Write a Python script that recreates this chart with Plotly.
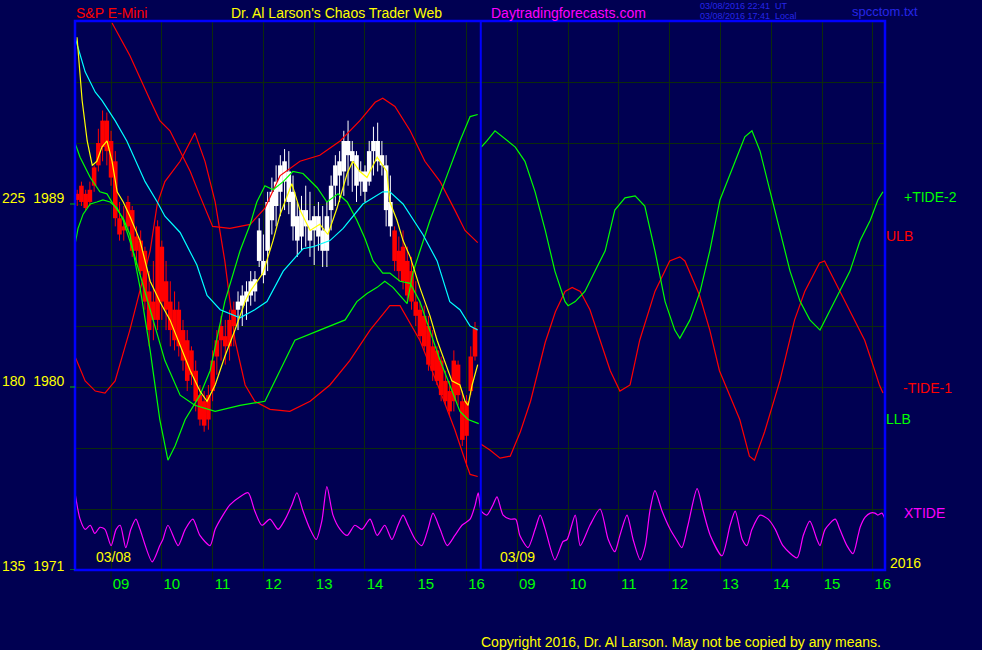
import plotly.graph_objects as go

# ---------------- data ----------------
# x axis: trading hours, day 1 hour h -> h, day 2 hour h -> h + 8
hour_ticks = [9, 10, 11, 12, 13, 14, 15, 16, 17, 18, 19, 20, 21, 22, 23, 24]
hour_labels = ["09", "10", "11", "12", "13", "14", "15", "16",
               "09", "10", "11", "12", "13", "14", "15", "16"]
price_grid = [1974, 1977, 1980, 1983, 1986, 1989, 1992, 1995]

# 5-minute price bars, day 1 (bar times 8:20 ... 16:10)
bar_t = [round(8 + 20 / 60 + k * 5 / 60, 4) for k in range(95)]
bar_h = [1989.7, 1990.1, 1989.7, 1990.1, 1990.9, 1992.7, 1993.6, 1993.5, 1992.6, 1991.6,
         1989.1, 1988.9, 1989.4, 1988.9, 1987.9, 1987.7, 1986.9, 1985.7, 1986.2, 1988.2,
         1987.2, 1986.2, 1985.2, 1984.7, 1984.2, 1983.3, 1982.8, 1982.0, 1981.3, 1980.1,
         1979.8, 1980.1, 1981.8, 1982.8, 1983.5, 1983.3, 1983.8, 1984.2, 1984.7, 1985.0,
         1985.2, 1985.7, 1985.7, 1988.3, 1987.5, 1989.6, 1990.3, 1990.9, 1991.4, 1991.7,
         1991.6, 1990.4, 1989.1, 1989.4, 1989.9, 1989.6, 1988.9, 1989.1, 1988.9, 1989.1,
         1990.4, 1991.4, 1991.6, 1992.6, 1993.1, 1992.1, 1991.6, 1991.1, 1990.9, 1992.1,
         1992.8, 1993.0, 1992.1, 1991.4, 1990.4, 1987.9, 1987.4, 1987.7, 1986.9, 1986.4,
         1985.2, 1984.2, 1984.0, 1983.5, 1982.8, 1982.0, 1981.5, 1980.8, 1980.3, 1981.8,
         1981.3, 1979.8, 1979.6, 1982.0, 1983.2]
bar_l = [1988.9, 1988.9, 1988.7, 1988.9, 1989.6, 1990.6, 1991.1, 1990.9, 1989.9, 1987.9,
         1987.2, 1987.2, 1987.7, 1986.4, 1986.0, 1985.5, 1983.8, 1982.0, 1982.3, 1982.8,
         1983.3, 1982.8, 1982.0, 1981.8, 1981.5, 1980.8, 1979.8, 1980.1, 1978.8, 1978.1,
         1977.8, 1977.9, 1979.3, 1980.6, 1981.3, 1981.1, 1981.3, 1982.0, 1982.8, 1983.0,
         1983.3, 1984.0, 1984.2, 1985.9, 1985.1, 1985.7, 1987.5, 1987.9, 1988.4, 1988.7,
         1988.5, 1987.2, 1986.4, 1986.7, 1986.9, 1986.4, 1986.0, 1986.7, 1985.9, 1985.9,
         1987.7, 1988.9, 1989.1, 1989.4, 1989.9, 1989.6, 1989.1, 1989.4, 1989.1, 1989.9,
         1990.4, 1990.6, 1990.4, 1987.9, 1987.4, 1985.7, 1985.2, 1984.8, 1984.2, 1983.8,
         1983.0, 1982.3, 1981.8, 1980.8, 1980.3, 1980.1, 1979.3, 1979.1, 1978.6, 1978.8,
         1979.1, 1977.1, 1976.1, 1979.6, 1981.3]
bar_o = [1989.2, 1989.9, 1989.5, 1989.1, 1989.9, 1990.9, 1991.8, 1993.1, 1992.1, 1991.1,
         1988.3, 1987.9, 1987.9, 1988.7, 1987.4, 1987.2, 1986.7, 1984.7, 1984.2, 1983.3,
         1986.9, 1985.2, 1984.2, 1983.8, 1983.8, 1982.8, 1982.3, 1981.8, 1980.8, 1979.6,
         1979.3, 1978.4, 1979.8, 1981.5, 1982.3, 1982.5, 1982.0, 1983.0, 1983.8, 1984.0,
         1984.2, 1984.5, 1984.7, 1986.2, 1985.5, 1986.7, 1988.2, 1988.9, 1989.6, 1990.1,
         1990.6, 1989.6, 1988.4, 1987.4, 1988.7, 1988.2, 1987.7, 1988.4, 1987.7, 1986.7,
         1988.7, 1989.9, 1990.4, 1990.6, 1992.1, 1991.1, 1991.4, 1990.1, 1990.6, 1990.1,
         1991.6, 1992.1, 1991.4, 1990.9, 1989.1, 1987.7, 1986.7, 1986.9, 1986.2, 1985.7,
         1984.2, 1983.8, 1983.5, 1983.0, 1982.0, 1981.8, 1981.3, 1980.3, 1979.8, 1979.3,
         1981.1, 1979.3, 1979.3, 1979.8, 1981.5]
bar_c = [1989.5, 1989.1, 1988.8, 1989.7, 1990.8, 1992.0, 1993.1, 1991.6, 1990.3, 1988.3,
         1987.5, 1987.7, 1989.1, 1986.7, 1986.7, 1985.7, 1984.2, 1982.8, 1983.3, 1987.9,
         1984.2, 1983.8, 1982.8, 1982.3, 1982.0, 1981.3, 1980.3, 1980.6, 1979.3, 1978.4,
         1978.1, 1979.6, 1981.3, 1982.3, 1983.0, 1982.0, 1983.3, 1983.8, 1984.2, 1984.5,
         1984.7, 1985.2, 1985.3, 1987.7, 1986.2, 1989.1, 1989.6, 1990.1, 1990.9, 1991.1,
         1989.1, 1987.9, 1987.2, 1988.7, 1987.9, 1987.2, 1988.4, 1987.4, 1986.7, 1988.4,
         1989.9, 1990.9, 1991.1, 1992.1, 1991.4, 1991.6, 1989.9, 1990.6, 1989.6, 1991.6,
         1992.1, 1991.1, 1990.9, 1988.7, 1987.9, 1986.2, 1985.7, 1985.2, 1984.5, 1984.2,
         1983.5, 1982.5, 1982.0, 1981.1, 1980.8, 1980.3, 1979.6, 1979.3, 1978.8, 1981.3,
         1979.6, 1977.4, 1977.6, 1981.5, 1982.9]
bar_col = ["r"] * 38 + ["w"] * 37 + ["r"] * 20

# yellow fast average
yel_t = [8.33, 8.43, 8.53, 8.63, 8.72, 8.82, 8.92, 9.02, 9.12, 9.24, 9.37, 9.57, 9.77, 9.96, 10.16, 10.36,
         10.56, 10.75, 10.89, 11.05, 11.24, 11.44, 11.64, 11.74, 11.99, 12.19, 12.33, 12.56, 12.72, 12.92,
         13.11, 13.27, 13.45, 13.65, 13.76, 13.9, 14.04, 14.24, 14.43, 14.49, 14.63, 14.75, 14.89, 15.08,
         15.28, 15.42, 15.57, 15.71, 15.87, 15.97, 16.03, 16.11, 16.22]
yel_v = [1997.2, 1994.1, 1992.1, 1990.9, 1991.1, 1991.8, 1992.1, 1991.1, 1989.6, 1989.1, 1988.4, 1987.2,
         1985.2, 1984.2, 1983.3, 1982.0, 1980.8, 1979.8, 1979.3, 1980.1, 1981.5, 1982.8, 1984.2, 1984.7,
         1985.6, 1987.2, 1988.5, 1990.0, 1988.7, 1987.7, 1988.0, 1987.5, 1988.8, 1990.5, 1991.1, 1990.6,
         1990.3, 1991.3, 1990.6, 1989.1, 1988.2, 1987.2, 1986.4, 1984.9, 1983.5, 1982.3, 1981.3, 1980.3,
         1980.1, 1979.3, 1979.1, 1980.1, 1981.1]

# cyan slow average
cyan_t = [8.29, 8.49, 8.69, 8.82, 9.08, 9.31, 9.67, 9.91, 10.06, 10.36, 10.69, 10.89, 11.15, 11.54, 11.83,
          12.07, 12.39, 12.78, 12.98, 13.31, 13.57, 13.96, 14.35, 14.49, 14.75, 15.14, 15.42, 15.67, 15.87,
          16.07, 16.22]
cyan_v = [1997.2, 1995.5, 1994.5, 1994.1, 1993.1, 1992.1, 1990.1, 1989.1, 1988.4, 1987.6, 1986.0, 1984.5,
          1983.8, 1983.4, 1983.8, 1984.2, 1985.7, 1986.8, 1986.9, 1987.2, 1987.8, 1989.0, 1989.6, 1989.6,
          1989.0, 1987.5, 1986.2, 1984.2, 1983.8, 1983.0, 1982.8]

# ULB (red, day 1)
ulb_t = [9.02, 9.37, 9.77, 9.96, 10.16, 10.36, 10.56, 10.75, 11.0, 11.34, 11.54, 11.74, 12.03, 12.33, 12.72,
         13.11, 13.51, 13.9, 14.2, 14.35, 14.59, 14.89, 15.18, 15.48, 15.77, 15.97, 16.22]
ulb_v = [1997.9, 1996.3, 1994.1, 1993.1, 1992.6, 1991.6, 1990.6, 1989.4, 1987.9, 1987.8, 1987.9, 1988.0,
         1988.8, 1990.4, 1991.1, 1991.4, 1992.1, 1993.1, 1994.0, 1994.2, 1993.8, 1992.6, 1991.1, 1990.1,
         1988.7, 1987.7, 1987.1]

# LLB (green, day 1)
llb_t = [8.29, 8.39, 8.59, 8.78, 8.92, 9.04, 9.24, 9.37, 9.57, 9.77, 9.96, 10.12, 10.26, 10.46, 10.75, 10.95,
         11.24, 11.54, 11.74, 11.87, 12.03, 12.19, 12.39, 12.58, 12.78, 13.06, 13.25, 13.47, 13.65, 13.84,
         14.0, 14.16, 14.35, 14.49, 14.69, 14.89, 15.08, 15.28, 15.48, 15.67, 15.87, 16.03, 16.24]
llb_v = [1992.0, 1991.3, 1990.3, 1989.6, 1989.5, 1989.0, 1988.3, 1987.5, 1984.9, 1981.8, 1978.4, 1976.4,
         1977.1, 1978.4, 1979.6, 1980.8, 1984.2, 1986.7, 1988.0, 1989.1, 1989.9, 1989.7, 1990.1, 1990.6,
         1990.5, 1989.8, 1989.1, 1989.5, 1989.1, 1988.2, 1987.3, 1986.2, 1985.6, 1985.6, 1985.2, 1985.1,
         1984.2, 1982.8, 1981.3, 1980.1, 1978.8, 1978.4, 1978.2]

# TIDE-1 (red), day 1 then day 2
t1a_t = [8.29, 8.49, 8.69, 8.88, 9.08, 9.37, 9.77, 9.91, 10.06, 10.36, 10.65, 10.85, 11.05, 11.24, 11.44,
         11.64, 11.83, 12.13, 12.52, 12.92, 13.31, 13.7, 14.1, 14.49, 14.69, 15.08, 15.48, 15.77, 15.97,
         16.07, 16.22]
t1a_v = [1981.5, 1980.3, 1979.8, 1979.7, 1980.3, 1982.8, 1986.7, 1989.0, 1990.1, 1991.1, 1992.5, 1991.1,
         1989.1, 1986.2, 1982.3, 1980.1, 1979.3, 1978.9, 1978.8, 1979.3, 1980.1, 1981.3, 1982.8, 1984.0,
         1984.0, 1982.3, 1979.8, 1977.9, 1976.4, 1975.7, 1975.6]
t1b_t = [16.28, 16.46, 16.66, 16.86, 17.06, 17.26, 17.55, 17.75, 17.94, 18.08, 18.24, 18.43, 18.63, 18.83,
         19.02, 19.22, 19.41, 19.71, 20.0, 20.2, 20.3, 20.39, 20.59, 20.79, 20.98, 21.38, 21.57, 21.67, 21.87,
         22.17, 22.46, 22.66, 22.95, 23.05, 23.25, 23.54, 23.84, 24.04, 24.13, 24.2]
t1b_v = [1977.2, 1976.9, 1976.5, 1976.6, 1977.8, 1979.3, 1982.2, 1983.7, 1984.7, 1984.9, 1984.7, 1983.8,
         1982.3, 1980.8, 1979.8, 1980.1, 1982.3, 1984.7, 1986.2, 1986.4, 1986.2, 1985.7, 1984.5, 1982.8,
         1980.8, 1978.4, 1976.6, 1976.4, 1977.8, 1980.3, 1983.3, 1984.7, 1986.1, 1986.2, 1985.2, 1983.8,
         1982.3, 1980.8, 1980.1, 1979.7]

# TIDE-2 (green), day 1 then day 2
t2a_t = [8.29, 8.35, 8.45, 8.59, 8.72, 8.84, 8.98, 9.12, 9.24, 9.33, 9.47, 9.77, 10.06, 10.36, 10.65, 11.05,
         11.54, 12.03, 12.33, 12.62, 13.11, 13.61, 13.84, 14.04, 14.24, 14.39, 14.55, 14.83, 14.94, 15.28,
         15.57, 15.87, 16.07, 16.22]
t2a_v = [1987.0, 1987.8, 1988.5, 1989.0, 1989.1, 1989.2, 1989.1, 1988.8, 1988.2, 1987.5, 1986.4, 1983.8,
         1981.3, 1979.6, 1979.1, 1978.8, 1979.1, 1979.3, 1980.8, 1982.3, 1982.8, 1983.3, 1984.2, 1984.6,
         1984.9, 1985.2, 1984.9, 1984.1, 1985.6, 1988.2, 1990.1, 1992.1, 1993.3, 1993.4]
t2b_t = [16.29, 16.4, 16.56, 16.76, 16.96, 17.15, 17.35, 17.55, 17.74, 17.94, 18.0, 18.14, 18.33, 18.53,
         18.73, 18.92, 19.12, 19.32, 19.51, 19.71, 19.91, 20.1, 20.2, 20.4, 20.6, 20.79, 20.99, 21.29, 21.48,
         21.62, 21.78, 21.98, 22.17, 22.37, 22.57, 22.76, 22.96, 23.16, 23.35, 23.55, 23.75, 23.95, 24.1,
         24.2]
t2b_v = [1991.8, 1992.1, 1992.6, 1992.2, 1991.8, 1991.1, 1989.6, 1987.7, 1985.7, 1984.2, 1984.0, 1984.2,
         1984.7, 1985.7, 1986.7, 1988.7, 1989.3, 1989.4, 1988.9, 1986.7, 1984.2, 1982.8, 1982.4, 1983.3,
         1984.7, 1986.7, 1989.2, 1991.1, 1992.3, 1992.6, 1991.6, 1989.6, 1987.7, 1985.7, 1984.2, 1983.3,
         1982.8, 1983.8, 1984.7, 1985.7, 1987.2, 1988.2, 1989.2, 1989.6]

# XTIDE (magenta), both days
xt_t = [8.29, 8.39, 8.49, 8.59, 8.68, 8.78, 8.88, 9.0, 9.1, 9.18, 9.29, 9.39, 9.49, 9.57, 9.81, 9.96, 10.02,
        10.12, 10.32, 10.46, 10.61, 10.75, 10.95, 11.05, 11.18, 11.34, 11.54, 11.7, 11.83, 11.97, 12.13, 12.29,
        12.43, 12.56, 12.66, 12.78, 12.92, 13.04, 13.15, 13.25, 13.37, 13.51, 13.65, 13.8, 13.94, 14.1, 14.24,
        14.39, 14.53, 14.65, 14.75, 14.85, 14.99, 15.12, 15.24, 15.34, 15.48, 15.62, 15.77, 15.91, 16.07,
        16.17, 16.23,
        16.29, 16.4, 16.52, 16.6, 16.72, 16.86, 16.97, 17.05, 17.21, 17.35, 17.45, 17.55, 17.74, 17.9, 17.98,
        18.14, 18.24, 18.43, 18.63, 18.79, 18.92, 19.02, 19.16, 19.28, 19.42, 19.52, 19.61, 19.71, 19.85,
        20.01, 20.13, 20.24, 20.36, 20.54, 20.66, 20.8, 21.03, 21.19, 21.29, 21.43, 21.52, 21.62, 21.78,
        21.94, 22.08, 22.23, 22.51, 22.63, 22.76, 22.9, 22.96, 23.06, 23.26, 23.35, 23.49, 23.61, 23.71,
        23.75, 23.85, 23.95, 24.04, 24.1, 24.18, 24.24]
xt_v = [1974.8, 1973.5, 1973.0, 1973.2, 1972.8, 1973.1, 1973.0, 1972.2, 1973.0, 1973.2, 1972.1, 1973.0,
        1973.5, 1973.0, 1971.4, 1972.2, 1972.5, 1973.2, 1972.2, 1973.0, 1973.5, 1972.7, 1972.2, 1973.0,
        1973.6, 1974.2, 1974.6, 1974.8, 1973.9, 1973.2, 1973.5, 1973.0, 1973.5, 1974.2, 1974.8, 1973.9,
        1973.0, 1972.5, 1973.4, 1975.1, 1973.7, 1973.0, 1972.7, 1973.2, 1973.0, 1973.5, 1972.7, 1973.2,
        1972.5, 1973.2, 1973.7, 1973.2, 1972.5, 1972.2, 1973.0, 1973.8, 1973.0, 1972.2, 1972.7, 1973.2,
        1973.5, 1974.2, 1974.8,
        1973.9, 1973.7, 1974.2, 1974.6, 1973.7, 1973.5, 1973.5, 1972.7, 1972.1, 1973.0, 1973.7, 1973.0,
        1971.5, 1972.4, 1972.5, 1973.7, 1972.2, 1973.2, 1974.0, 1972.5, 1971.9, 1972.7, 1973.7, 1972.5,
        1971.5, 1972.2, 1973.9, 1974.9, 1973.9, 1973.0, 1972.5, 1972.1, 1973.2, 1975.0, 1973.9, 1972.7,
        1971.7, 1973.2, 1973.9, 1972.5, 1972.2, 1973.0, 1973.7, 1973.5, 1973.0, 1972.2, 1971.6, 1972.7,
        1973.4, 1972.5, 1972.2, 1973.0, 1973.5, 1973.0, 1972.2, 1971.8, 1972.7, 1973.1, 1973.6, 1973.8,
        1973.8, 1973.7, 1973.8, 1973.5]

# ---------------- figure ----------------
BG = "#000052"
GRID = "#0c2a0c"
XR = [8.29, 24.24]
YR = [1971, 1998]
L, R, T, B = 75, 885, 21, 570
FONT = "Liberation Sans, Arial, sans-serif"


def pxx(x):
    return (x - L) / (R - L)


def pyy(y):
    return (B - y) / (B - T)


fig = go.Figure()

# price bars: thin wick lines + filled bodies
for key, col in (("r", "#FF0000"), ("w", "#FFFFFF")):
    idx = [i for i, c in enumerate(bar_col) if c == key]
    wx, wy = [], []
    for i in idx:
        wx += [bar_t[i], bar_t[i], None]
        wy += [bar_l[i], bar_h[i], None]
    fig.add_trace(go.Scatter(x=wx, y=wy, mode="lines", line=dict(color=col, width=1),
                             hoverinfo="skip", showlegend=False))
    fig.add_trace(go.Bar(x=[bar_t[i] for i in idx],
                         y=[max(abs(bar_o[i] - bar_c[i]), 0.05) for i in idx],
                         base=[min(bar_o[i], bar_c[i]) for i in idx],
                         width=0.09, marker=dict(color=col, line=dict(width=0)),
                         hoverinfo="skip", showlegend=False))

lines = [
    (ulb_t, ulb_v, "#FF0000", "linear"),
    (t1a_t, t1a_v, "#FF0000", "linear"),
    (t1b_t, t1b_v, "#FF0000", "linear"),
    (llb_t, llb_v, "#00FF00", "linear"),
    (t2a_t, t2a_v, "#00FF00", "linear"),
    (t2b_t, t2b_v, "#00FF00", "linear"),
    (cyan_t, cyan_v, "#00FFFF", "linear"),
    (yel_t, yel_v, "#FFFF00", "linear"),
    (xt_t, xt_v, "#FF00FF", "spline"),
]
for xs, ys, col, shp in lines:
    fig.add_trace(go.Scatter(x=xs, y=ys, mode="lines",
                             line=dict(color=col, width=1.2, shape=shp, smoothing=0.7),
                             hoverinfo="skip", showlegend=False, cliponaxis=True))

fig.update_layout(
    width=982, height=650, margin=dict(l=L, r=982 - R, t=T, b=650 - B, pad=0),
    paper_bgcolor=BG, plot_bgcolor=BG, showlegend=False, barmode="overlay",
    font=dict(family=FONT, size=14),
    xaxis=dict(range=XR, tickmode="array", tickvals=hour_ticks, ticktext=hour_labels,
               showgrid=True, gridcolor=GRID, gridwidth=1, zeroline=False, ticks="",
               tickfont=dict(color="#00FF00", size=15), ticklabelshift=10, ticklabelstandoff=3,
               showline=False, fixedrange=True),
    yaxis=dict(range=YR, tickmode="array", tickvals=price_grid, showticklabels=False,
               showgrid=True, gridcolor=GRID, gridwidth=1, zeroline=False, ticks="",
               showline=False, fixedrange=True),
)

shapes = []
# hour tick marks below the frame
for hv in hour_ticks:
    shapes.append(dict(type="line", xref="x", yref="paper", x0=hv, x1=hv, y0=-10 / (B - T), y1=0,
                       line=dict(color="#0a1a0a", width=1)))
shapes += [
    dict(type="rect", xref="paper", yref="paper", x0=0, x1=1, y0=0, y1=1,
         line=dict(color="#0000FF", width=2.5)),
    dict(type="line", xref="x", yref="paper", x0=16.28, x1=16.28, y0=0, y1=1,
         line=dict(color="#0000FF", width=2)),
]
for yv in (1989, 1980, 1971):
    shapes.append(dict(type="line", xref="paper", yref="y", x0=-5 / (R - L), x1=0, y0=yv, y1=yv,
                       line=dict(color="#00C000", width=1)))
fig.update_layout(shapes=shapes)

ann = [
    ("S&P E-Mini", 75, 13, "#FF0000", 14),
    ("Dr. Al Larson's Chaos Trader Web", 230, 13, "#FFFF00", 14),
    ("Daytradingforecasts.com", 490, 13, "#FF00FF", 14),
    ("03/08/2016 22:41  UT", 699, 6, "#2626E8", 9),
    ("03/08/2016 17:41  Local", 699, 16, "#2626E8", 9),
    ("spcctom.txt", 851, 12, "#2626E8", 13),
    ("225  1989", 1, 198, "#FFFF00", 14),
    ("180  1980", 1, 381, "#FFFF00", 14),
    ("135  1971", 1, 566, "#FFFF00", 14),
    ("03/08", 95, 557, "#FFFF00", 14),
    ("03/09", 499, 557, "#FFFF00", 14),
    ("2016", 889, 563, "#FFFF00", 14),
    ("+TIDE-2", 903, 197, "#00FF00", 14),
    ("ULB", 885, 236, "#FF0000", 14),
    ("-TIDE-1", 902, 388, "#FF0000", 14),
    ("LLB", 885, 419, "#00FF00", 14),
    ("XTIDE", 903, 513, "#FF00FF", 14),
    ("Copyright 2016, Dr. Al Larson. May not be copied by any means.", 480, 642, "#FFFF00", 14),
]
for text, x, y, col, sz in ann:
    fig.add_annotation(text=text, xref="paper", yref="paper", x=pxx(x), y=pyy(y),
                       xanchor="left", yanchor="middle", showarrow=False,
                       font=dict(color=col, size=sz, family=FONT), borderpad=0)

fig.write_html("out.html", config={"displayModeBar": False, "staticPlot": True},
               post_script="document.body.style.margin='0';document.body.style.overflow='hidden';"
                           "document.body.style.background='" + BG + "';")
